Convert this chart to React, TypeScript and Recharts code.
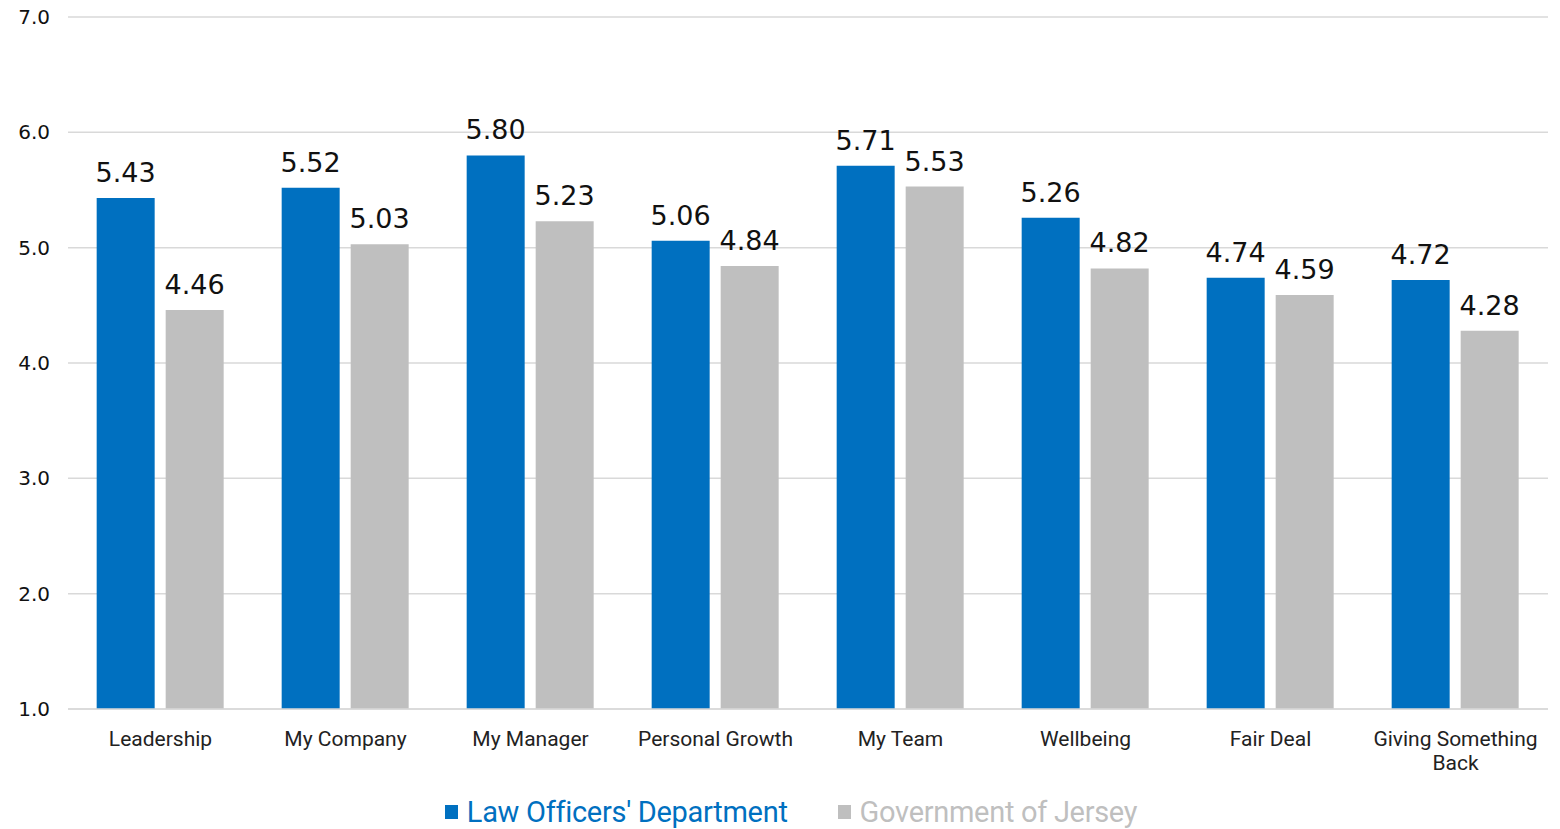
import React from 'react';
import { BarChart, Bar, XAxis, YAxis, CartesianGrid, LabelList, Legend } from 'recharts';

const categories = [
  'Leadership',
  'My Company',
  'My Manager',
  'Personal Growth',
  'My Team',
  'Wellbeing',
  'Fair Deal',
  'Giving Something Back',
];
const lawOfficers = [5.43, 5.52, 5.8, 5.06, 5.71, 5.26, 4.74, 4.72];
const governmentJersey = [4.46, 5.03, 5.23, 4.84, 5.53, 4.82, 4.59, 4.28];
const yTicks = [1, 2, 3, 4, 5, 6, 7];

const BLUE = '#0070C0';
const GREY = '#BFBFBF';

const data = categories.map((name, i) => ({
  name,
  lod: lawOfficers[i],
  goj: governmentJersey[i],
}));

// wrap long category names onto two lines, like the original
const CategoryTick = ({ x, y, payload }: any) => {
  const words = String(payload.value).split(' ');
  const lines = words.length > 2 ? [words.slice(0, 2).join(' '), words.slice(2).join(' ')] : [payload.value];
  return (
    <text x={x} y={y} textAnchor="middle" fill="#222" fontSize={21} fontFamily="Roboto, sans-serif">
      {lines.map((l, i) => (
        <tspan key={i} x={x} dy={i === 0 ? 29 : 24}>
          {l}
        </tspan>
      ))}
    </text>
  );
};

const LegendContent = () => (
  <div
    style={{
      display: 'flex',
      justifyContent: 'center',
      alignItems: 'center',
      gap: 50,
      height: 34,
      lineHeight: '30px',
      paddingLeft: 34,
      fontFamily: 'Roboto, sans-serif',
      fontSize: 29,
      letterSpacing: -0.3,
    }}
  >
    {[
      { label: "Law Officers' Department", color: BLUE },
      { label: 'Government of Jersey', color: GREY },
    ].map((item) => (
      <div key={item.label} style={{ display: 'flex', alignItems: 'center', color: item.color }}>
        <span style={{ width: 13, height: 14, background: item.color, marginRight: 9, display: 'inline-block' }} />
        {item.label}
      </div>
    ))}
  </div>
);

export default function App() {
  return (
    <div style={{ position: 'absolute', left: 0, top: 0, background: '#fff' }}>
      <BarChart
        width={1560}
        height={829}
        data={data}
        margin={{ top: 17, right: 12, bottom: 0, left: 0 }}
        barCategoryGap="15.5%"
        barGap={11}
      >
        <CartesianGrid vertical={false} stroke="#d9d9d9" strokeWidth={1.5} />
        <XAxis
          dataKey="name"
          height={86}
          tick={<CategoryTick />}
          tickLine={false}
          axisLine={{ stroke: '#d9d9d9', strokeWidth: 1.5 }}
          interval={0}
        />
        <YAxis
          width={68}
          domain={[1, 7]}
          ticks={yTicks}
          tickFormatter={(v: number) => v.toFixed(1)}
          tickLine={false}
          axisLine={false}
          tickSize={0}
          tickMargin={18}
          tick={{ fill: '#111', fontSize: 20, fontFamily: 'DejaVu Sans, sans-serif' }}
        />
        <Legend verticalAlign="bottom" height={34} content={<LegendContent />} />
        <Bar dataKey="lod" fill={BLUE} isAnimationActive={false}>
          <LabelList
            dataKey="lod"
            position="top"
            offset={16}
            formatter={(v: number) => v.toFixed(2)}
            fill="#111"
            fontSize={27}
            fontFamily="DejaVu Sans, sans-serif"
          />
        </Bar>
        <Bar dataKey="goj" fill={GREY} isAnimationActive={false}>
          <LabelList
            dataKey="goj"
            position="top"
            offset={16}
            formatter={(v: number) => v.toFixed(2)}
            fill="#111"
            fontSize={27}
            fontFamily="DejaVu Sans, sans-serif"
          />
        </Bar>
      </BarChart>
    </div>
  );
}
